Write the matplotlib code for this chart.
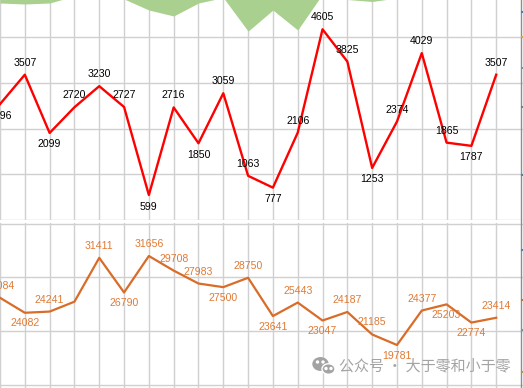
# 两条折线 + 顶部绿色面积（Excel 截图复刻）

import matplotlib
matplotlib.use('Agg')

import matplotlib.pyplot as plt
from matplotlib.patches import Ellipse, Circle

plt.rcParams['font.family'] = ['Liberation Sans', 'DejaVu Sans']

# 类别序号 0..20（第 0 个在左边缘之外）
idx = list(range(21))

red_vals = [2796, 3507, 2099, 2720, 3230, 2727, 599, 2716, 1850, 3059, 1063,
            777, 2106, 4605, 3825, 1253, 2374, 4029, 1865, 1787, 3507]
red_pos = ['b', 'a', 'b', 'a', 'a', 'a', 'b', 'a', 'b', 'a', 'a',
           'b', 'a', 'a', 'a', 'b', 'a', 'a', 'a', 'b', 'a']

orange_vals = [26084, 24082, 24241, 25560, 31411, 26790, 31656, 29708, 27983,
               27500, 28750, 23641, 25443, 23047, 24187, 21185, 19781, 24377,
               25203, 22774, 23414]
orange_pos = ['a', 'b', 'a', '', 'a', 'b', 'a', 'a', 'a', 'b', 'a',
              'b', 'a', 'b', 'a', 'a', 'b', 'a', 'b', 'b', 'a']

# 顶部绿色面积的下沿（与红线同一坐标轴）
green_vals = [5240, 5216, 5240, 5409, 5554, 5337, 5071, 4926, 5240, 5371, 4560,
              5070, 4587, 5457, 5325, 5277, 5361, 5554, 5554, 5554, 5554]

W, H = 523, 388
fig = plt.figure(figsize=(W / 100, H / 100), dpi=100)
fig.patch.set_facecolor('white')

grid_c = '#D0D0D0'
xlim = (0.16, 21.08)


def red_px(y):   # 像素 y -> 红线数值
    return 3507 + (74.7 - y) / 0.04137


def org_px(y):   # 像素 y -> 橙线数值
    return 31656 + (256 - y) / 0.0074949


def setup(ax, yl, yticks):
    ax.set_xlim(*xlim)
    ax.set_ylim(*yl)
    ax.set_xticks(idx)
    ax.set_yticks(yticks)
    ax.grid(True, color=grid_c, lw=1)
    ax.set_axisbelow(True)
    ax.tick_params(length=0, labelbottom=False, labelleft=False)
    for s in ax.spines.values():
        s.set_visible(False)
    ax.patch.set_alpha(0)


# 上半部分：像素 0..220
ax1 = fig.add_axes([0, (H - 220) / H, 1, 220 / H])
setup(ax1, (red_px(220), red_px(0)), [red_px(y) for y in (37, 83, 129, 174, 219.5)])
ax1.fill_between(idx, green_vals, red_px(-20), color='#A9D08E', lw=0, zorder=1)
ax1.plot(idx, red_vals, color='#FF0000', lw=1.7, zorder=3)
for i, v, p in zip(idx, red_vals, red_pos):
    dy = 12 if p == 'a' else -11.5
    ax1.annotate(str(v), (i, v), xytext=(0, dy), textcoords='offset pixels',
                 ha='center', va='center', fontsize=7.6, color='#000000', zorder=4)

# 下半部分：像素 223..388
ax2 = fig.add_axes([0, 0, 1, (H - 223) / H])
setup(ax2, (org_px(388), org_px(223)), [org_px(y) for y in (223.5, 277, 331, 385)])
ax2.plot(idx, orange_vals, color='#D86C28', lw=1.6, zorder=3)
for i, v, p in zip(idx, orange_vals, orange_pos):
    if not p:
        continue
    dy = 12 if p == 'a' else -10.5
    ax2.annotate(str(v), (i, v), xytext=(0, dy), textcoords='offset pixels',
                 ha='center', va='center', fontsize=7.6, color='#E07A35', zorder=4)

# 覆盖层：右侧边框、水印
ov = fig.add_axes([0, 0, 1, 1], zorder=5)
ov.set_xlim(0, W)
ov.set_ylim(H, 0)
ov.axis('off')
ov.patch.set_alpha(0)
ov.axvline(520.8, color='#8C8C8C', lw=1.0)
for yy, cc in [(12, '#4A7EBB'), (37, '#E0A040'), (68, '#7090B0'), (107, '#708090'),
               (175, '#5080A0'), (250, '#4A7EBB'), (300, '#C07030'), (330, '#7090B0'),
               (372, '#C09040')]:
    ov.plot([521.5, 523], [yy, yy], color=cc, lw=1.5)

wm = '#A3A3A3'
ov.add_patch(Ellipse((320.5, 364), 15, 12.5, color=wm))
ov.add_patch(Ellipse((328.5, 369), 13, 10.5, color=wm, ec='white', lw=1.0))
for cx, cy in [(317.5, 362), (323, 362), (326, 368.5), (331, 368.5)]:
    ov.add_patch(Circle((cx, cy), 1.0, color='white'))
fig.text(339 / W, 1 - 366.5 / H, '公众号 · 大于零和小于零', color=wm, fontsize=10.8,
         ha='left', va='center', family=['Noto Sans CJK SC', 'DejaVu Sans'], zorder=6)

fig.savefig('out.png', dpi=100)
